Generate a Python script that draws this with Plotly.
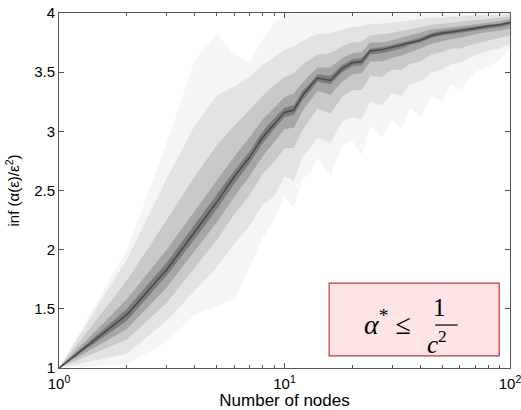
import plotly.graph_objects as go

# Number of nodes (x positions of the quantile profiles)
nodes = [1, 2, 3, 4, 5, 6, 7, 8, 9, 10, 11, 12, 13, 14, 16, 18, 20, 22, 24, 27,
         30, 33, 36, 40, 45, 50, 55, 60, 70, 80, 90, 100]

# Median of inf(alpha(eps)/eps^2)
median = [1.00, 1.45, 1.83, 2.15, 2.40, 2.62, 2.78, 2.95, 3.06, 3.16, 3.18, 3.30,
          3.38, 3.45, 3.43, 3.53, 3.58, 3.59, 3.68, 3.69, 3.71, 3.73, 3.75, 3.77,
          3.81, 3.83, 3.84, 3.85, 3.87, 3.89, 3.90, 3.92]

# Upper quantile envelopes (inner -> outer)
hi5 = [1.00, 1.50, 1.89, 2.21, 2.46, 2.67, 2.83, 3.00, 3.11, 3.20, 3.22, 3.34,
       3.41, 3.48, 3.47, 3.56, 3.61, 3.62, 3.70, 3.71, 3.73, 3.75, 3.77, 3.79,
       3.83, 3.85, 3.86, 3.87, 3.89, 3.90, 3.91, 3.93]
hi4 = [1.00, 1.58, 2.00, 2.33, 2.58, 2.79, 2.95, 3.10, 3.20, 3.29, 3.32, 3.41,
       3.48, 3.54, 3.54, 3.62, 3.66, 3.67, 3.75, 3.75, 3.77, 3.79, 3.81, 3.83,
       3.86, 3.87, 3.88, 3.89, 3.91, 3.92, 3.93, 3.95]
hi3 = [1.00, 1.74, 2.25, 2.62, 2.88, 3.05, 3.18, 3.30, 3.39, 3.46, 3.49, 3.56,
       3.61, 3.65, 3.66, 3.72, 3.75, 3.76, 3.81, 3.82, 3.83, 3.85, 3.86, 3.88,
       3.90, 3.91, 3.92, 3.93, 3.94, 3.95, 3.96, 3.97]
hi2 = [1.00, 1.92, 2.60, 3.05, 3.30, 3.38, 3.46, 3.56, 3.63, 3.69, 3.72, 3.76,
       3.80, 3.82, 3.83, 3.86, 3.88, 3.89, 3.91, 3.91, 3.92, 3.93, 3.94, 3.95,
       3.96, 3.96, 3.97, 3.97, 3.98, 3.98, 3.98, 3.99]
hi1 = [1.00, 2.00, 2.90, 3.60, 3.82, 3.65, 3.58, 3.78, 3.92, 3.98, 4.00, 4.00,
       4.00, 4.00, 4.00, 4.00, 4.00, 4.00, 4.00, 4.00, 4.00, 4.00, 4.00, 4.00,
       4.00, 4.00, 4.00, 4.00, 4.00, 4.00, 4.00, 4.00]

# Lower quantile envelopes (inner -> outer)
lo5 = [1.00, 1.40, 1.78, 2.09, 2.34, 2.56, 2.73, 2.90, 3.02, 3.12, 3.14, 3.26,
       3.34, 3.42, 3.40, 3.50, 3.55, 3.56, 3.65, 3.66, 3.68, 3.70, 3.73, 3.75,
       3.79, 3.81, 3.82, 3.83, 3.85, 3.87, 3.88, 3.90]
lo4 = [1.00, 1.33, 1.68, 1.99, 2.23, 2.45, 2.62, 2.79, 2.91, 3.02, 3.03, 3.17,
       3.26, 3.34, 3.31, 3.42, 3.48, 3.49, 3.59, 3.59, 3.62, 3.64, 3.67, 3.70,
       3.74, 3.76, 3.78, 3.79, 3.82, 3.84, 3.85, 3.87]
lo3 = [1.00, 1.24, 1.55, 1.85, 2.08, 2.30, 2.46, 2.64, 2.74, 2.86, 2.86, 3.01,
       3.10, 3.19, 3.15, 3.29, 3.35, 3.35, 3.47, 3.46, 3.52, 3.52, 3.57, 3.59,
       3.65, 3.67, 3.70, 3.70, 3.74, 3.77, 3.79, 3.81]
lo2 = [1.00, 1.12, 1.40, 1.65, 1.85, 2.05, 2.20, 2.38, 2.45, 2.62, 2.58, 2.78,
       2.86, 2.95, 2.90, 3.08, 3.12, 3.10, 3.25, 3.22, 3.32, 3.30, 3.40, 3.42,
       3.50, 3.52, 3.57, 3.58, 3.64, 3.68, 3.70, 3.74]
lo1 = [1.00, 1.03, 1.22, 1.45, 1.52, 1.58, 1.85, 2.10, 2.25, 2.45, 2.35, 2.60,
       2.65, 2.78, 2.62, 2.88, 2.92, 2.80, 3.05, 2.95, 3.10, 3.02, 3.20, 3.12,
       3.30, 3.25, 3.40, 3.35, 3.50, 3.55, 3.60, 3.70]

x_tickvals = [1, 10, 100]
x_ticktext = ["10<sup>0</sup>", "10<sup>1</sup>", "10<sup>2</sup>"]
x_minor = [2, 3, 4, 5, 6, 7, 8, 9, 20, 30, 40, 50, 60, 70, 80, 90]
y_tickvals = [1, 1.5, 2, 2.5, 3, 3.5, 4]
y_ticktext = ["1", "1.5", "2", "2.5", "3", "3.5", "4"]

bands = [(lo1, hi1, "#f5f5f5"), (lo2, hi2, "#e3e3e3"), (lo3, hi3, "#c9c9c9"),
         (lo4, hi4, "#a6a6a6"), (lo5, hi5, "#7c7c7c")]

fig = go.Figure()
for lo, hi, col in bands:
    fig.add_trace(go.Scatter(
        x=nodes + nodes[::-1], y=hi + lo[::-1], fill="toself", fillcolor=col,
        mode="lines", line=dict(width=0), hoverinfo="skip", showlegend=False))
fig.add_trace(go.Scatter(x=nodes, y=median, mode="lines",
                         line=dict(color="#4a4a4a", width=1.6), showlegend=False))

axis_common = dict(showline=True, linecolor="#555555", linewidth=1, mirror="ticks",
                   ticks="inside", ticklen=5, tickcolor="#555555", showgrid=False,
                   zeroline=False, automargin=False, ticklabeloverflow="allow",
                   tickfont=dict(size=15, color="black"))

fig.update_xaxes(type="log", range=[0, 2], tickvals=x_tickvals, ticktext=x_ticktext,
                 minor=dict(tickmode="array", tickvals=x_minor, ticks="inside",
                            ticklen=3, tickcolor="#555555", showgrid=False),
                 ticklabelstandoff=2,
                 title=dict(text="Number of nodes", font=dict(size=17, color="black"),
                            standoff=2),
                 **axis_common)
fig.update_yaxes(range=[1, 4], tickvals=y_tickvals, ticktext=y_ticktext,
                 title=dict(text="inf (α(ε)/ε<sup>2</sup>)", font=dict(size=15, color="black"),
                            standoff=10),
                 **axis_common)

# Annotation box
fig.add_shape(type="rect", xref="paper", yref="paper", x0=0.599, x1=0.976, y0=0.034,
              y1=0.239, fillcolor="#fde4e5", line=dict(color="#cc3333", width=1.2),
              layer="above")
fig.add_shape(type="line", xref="paper", yref="paper", x0=0.834, x1=0.884, y0=0.121,
              y1=0.121, line=dict(color="black", width=1.2), layer="above")
serif = "Liberation Serif"
fig.add_annotation(xref="paper", yref="paper", x=0.785, y=0.127, yanchor="middle",
                   showarrow=False, text="<i>α</i><sup>*</sup> ≤",
                   font=dict(family=serif, size=28, color="black"))
fig.add_annotation(xref="paper", yref="paper", x=0.862, y=0.128, yanchor="bottom",
                   showarrow=False, text="1",
                   font=dict(family=serif, size=25, color="black"))
fig.add_annotation(xref="paper", yref="paper", x=0.864, y=0.124, yanchor="top",
                   showarrow=False, text="<i>c</i><sup>2</sup>",
                   font=dict(family=serif, size=25, color="black"))

fig.update_layout(width=521, height=410, margin=dict(l=59, r=11, t=13, b=42),
                  plot_bgcolor="white", paper_bgcolor="white",
                  font=dict(family="Liberation Sans, Arial, sans-serif", color="black"))
fig.write_html("out.html", config={"displayModeBar": False},
               post_script="document.body.style.margin='0';document.body.style.overflow='hidden';")
